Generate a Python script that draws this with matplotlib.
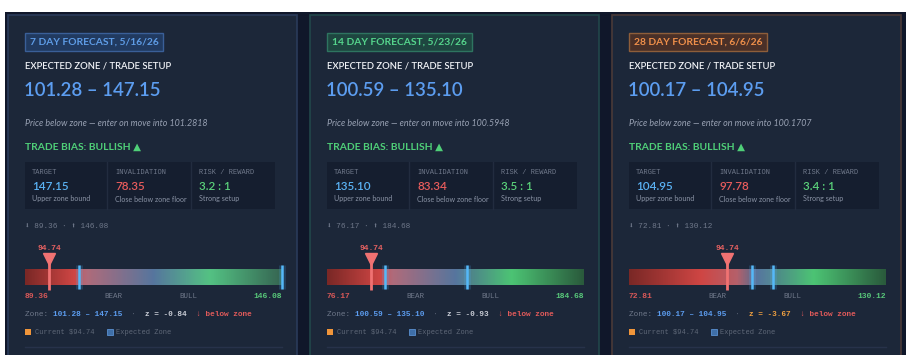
import matplotlib
matplotlib.use("Agg")
import matplotlib.pyplot as plt
import numpy as np
from matplotlib.colors import LinearSegmentedColormap
from matplotlib.patches import Rectangle

# forecast data
horizons = [7, 14, 28]
dates = ["5/16/26", "5/23/26", "6/6/26"]
zone_low = [101.28, 100.59, 100.17]
zone_high = [147.15, 135.10, 104.95]
entry_px = ["101.2818", "100.5948", "100.1707"]
invalidation = [78.35, 83.34, 97.78]
risk_reward = [3.2, 3.5, 3.4]
range_low = [89.36, 76.17, 72.81]
range_high = [146.08, 184.68, 130.12]
z_scores = [-0.84, -0.93, -3.67]
current = 94.74

W, H = 906, 355
SANS = ["Lato", "DejaVu Sans"]
MONO = ["Liberation Mono", "DejaVu Sans Mono"]

badge_style = [
    dict(fg="#5e9ce6", bg="#213a60", ec="#3a5f98"),
    dict(fg="#55d48c", bg="#1e4640", ec="#2e7460"),
    dict(fg="#ef8f4a", bg="#4a3028", ec="#8e5e3a"),
]
card_edges = ["#2a3b5a", "#22474a", "#4a3a38"]
card_lefts = [8, 310, 612]
card_w = 289

fig = plt.figure(figsize=(W / 100, H / 100), dpi=100)
fig.patch.set_facecolor("white")
bg = fig.add_axes([0, 0, 1, 1])
bg.set_xlim(0, W)
bg.set_ylim(H, 0)
bg.axis("off")
bg.add_patch(Rectangle((5, 12), W - 5, H - 12, fc="#10172a", ec="none"))
renderer = fig.canvas.get_renderer()


def fig_rect(x0, y0, x1, y1):
    return [x0 / W, 1 - y1 / H, (x1 - x0) / W, (y1 - y0) / H]


def text_run(x, y, parts, size):
    # colored pieces laid end to end, advancing by measured width
    for txt, col, wt in parts:
        t = bg.text(x, y, txt, color=col, fontsize=size, family=MONO, fontweight=wt,
                    va="center", ha="left")
        x += t.get_window_extent(renderer).width


for i in range(3):
    L = card_lefts[i]
    cx = L + 17
    bg.add_patch(Rectangle((L, 15), card_w, H, fc="#1c2739", ec=card_edges[i], lw=1.2))

    # badge
    b = badge_style[i]
    bg.text(cx + 5, 42, f"{horizons[i]} DAY FORECAST, {dates[i]}", color=b["fg"],
            fontsize=7.4, fontweight="bold", family=SANS, va="center", ha="left",
            bbox=dict(boxstyle="square,pad=0.45", fc=b["bg"], ec=b["ec"], lw=1))

    bg.text(cx, 66, "EXPECTED ZONE / TRADE SETUP", color="#f2f4f8", fontsize=6.8,
            family=SANS, fontweight="semibold", va="center", ha="left")
    bg.text(cx - 1, 90, f"{zone_low[i]:.2f} – {zone_high[i]:.2f}", color="#5c9df0",
            fontsize=13.4, family=SANS, fontweight="semibold", va="center", ha="left")
    bg.text(cx, 123, f"Price below zone — enter on move into {entry_px[i]}",
            color="#98a1b3", fontsize=6.4, style="italic", family=SANS, va="center", ha="left")
    bg.text(cx, 147, "TRADE BIAS: BULLISH ▲", color="#4fcf78", fontsize=7.4,
            fontweight="bold", family=SANS, va="center", ha="left")

    # metric table
    bg.add_patch(Rectangle((cx, 162), 250, 47, fc="#151e2f", ec="none"))
    for dx in (82, 166):
        bg.plot([cx + dx, cx + dx], [162, 209], color="#222c3f", lw=1)
    cells = [
        ("TARGET", f"{zone_high[i]:.2f}", "#5ab2f4", "Upper zone bound"),
        ("INVALIDATION", f"{invalidation[i]:.2f}", "#e85c5c", "Close below zone floor"),
        ("RISK / REWARD", f"{risk_reward[i]:.1f} : 1", "#5ad07a", "Strong setup"),
    ]
    for k, (lab, val, vc, sub) in enumerate(cells):
        x = cx + 7 + [0, 83, 167][k]
        bg.text(x, 172, lab, color="#6f788a", fontsize=5.0, family=MONO, va="center", ha="left")
        bg.text(x, 186, val, color=vc, fontsize=8.4, family=SANS, fontweight="semibold",
                va="center", ha="left")
        bg.text(x, 199, sub, color="#8a93a5", fontsize=5.1, family=SANS, va="center", ha="left")

    bg.text(cx, 227, f"⬇ {range_low[i]:.2f} · ⬆ {range_high[i]:.2f}", color="#6f788a",
            fontsize=5.6, family=MONO, va="center", ha="left")

    # gradient bar in its own data axes
    x0, x1 = cx, L + 274
    ax = fig.add_axes(fig_rect(x0, 244, x1, 294))
    ax.set_xlim(range_low[i], range_high[i])
    ax.set_ylim(294, 244)
    ax.axis("off")
    span = range_high[i] - range_low[i]
    lo_f = (zone_low[i] - range_low[i]) / span
    red_peak = min(lo_f, 0.3) - 0.02
    cmap = LinearSegmentedColormap.from_list("bar", [
        (0.0, "#7a2826"), (red_peak, "#cf4644"), (min(lo_f + 0.03, 0.42), "#b5606a"),
        (0.5, "#4f6c92"), (0.72, "#4cc474"), (1.0, "#2a5a3c")])
    grad = np.linspace(0, 1, 400).reshape(1, -1)
    ax.imshow(grad, cmap=cmap, aspect="auto", extent=(range_low[i], range_high[i], 285, 269),
              interpolation="bilinear")
    zh = min(zone_high[i], range_high[i])
    ax.axvspan(zone_low[i], zh, ymin=(294 - 285) / 50, ymax=(294 - 269) / 50,
               color="#8ab8ee", alpha=0.13, lw=0)
    for zv in (zone_low[i], zh):
        ax.plot([zv, zv], [265, 289], color="#4aaef5", lw=5, alpha=0.18,
                solid_capstyle="butt", clip_on=False)
        ax.plot([zv, zv], [265, 289], color="#55b8f8", lw=1.8,
                solid_capstyle="butt", clip_on=False)
    ax.plot([current, current], [261, 290], color="#f07272", lw=2, solid_capstyle="butt")
    ax.plot([current], [258.5], marker="v", ms=9, color="#f07272", mec="#f07272")
    ax.text(current, 248, f"{current:.2f}", color="#e86262", fontsize=5.8, family=MONO,
            fontweight="bold", ha="center", va="center")

    # scale labels
    bg.text(x0, 297, f"{range_low[i]:.2f}", color="#d85858", fontsize=5.8, family=MONO,
            fontweight="bold", va="center", ha="left")
    bg.text(x0 + 0.345 * (x1 - x0), 297, "BEAR", color="#6f788a", fontsize=5.4, family=MONO,
            va="center", ha="center")
    bg.text(x0 + 0.635 * (x1 - x0), 297, "BULL", color="#6f788a", fontsize=5.4, family=MONO,
            va="center", ha="center")
    bg.text(x1, 297, f"{range_high[i]:.2f}", color="#58c87a", fontsize=5.8, family=MONO,
            fontweight="bold", va="center", ha="right")

    # zone / z line
    zc = "#f0a040" if abs(z_scores[i]) > 2 else "#c9cdd6"
    text_run(x0, 314, [("Zone: ", "#6f788a", "normal"),
                       (f"{zone_low[i]:.2f} – {zone_high[i]:.2f}", "#5c9df0", "bold"),
                       ("  ·  ", "#5a6375", "normal"),
                       (f"z = {z_scores[i]:.2f}", zc, "bold"),
                       ("  ↓ below zone", "#e05a5a", "bold")], 5.6)

    # legend
    bg.add_patch(Rectangle((x0, 329), 6, 6, fc="#f0953a", ec="none"))
    bg.text(x0 + 10, 332, f"Current ${current:.2f}", color="#5f6878", fontsize=5.0,
            family=MONO, va="center", ha="left")
    bg.add_patch(Rectangle((x0 + 82, 329), 6, 6, fc="#3f6fa8", ec="#5a90d0", lw=0.6))
    bg.text(x0 + 91, 332, "Expected Zone", color="#5f6878", fontsize=5.0,
            family=MONO, va="center", ha="left")
    bg.plot([x0, x1], [347, 347], color="#27324a", lw=1)

fig.savefig("out.png", dpi=100, facecolor=fig.get_facecolor())
